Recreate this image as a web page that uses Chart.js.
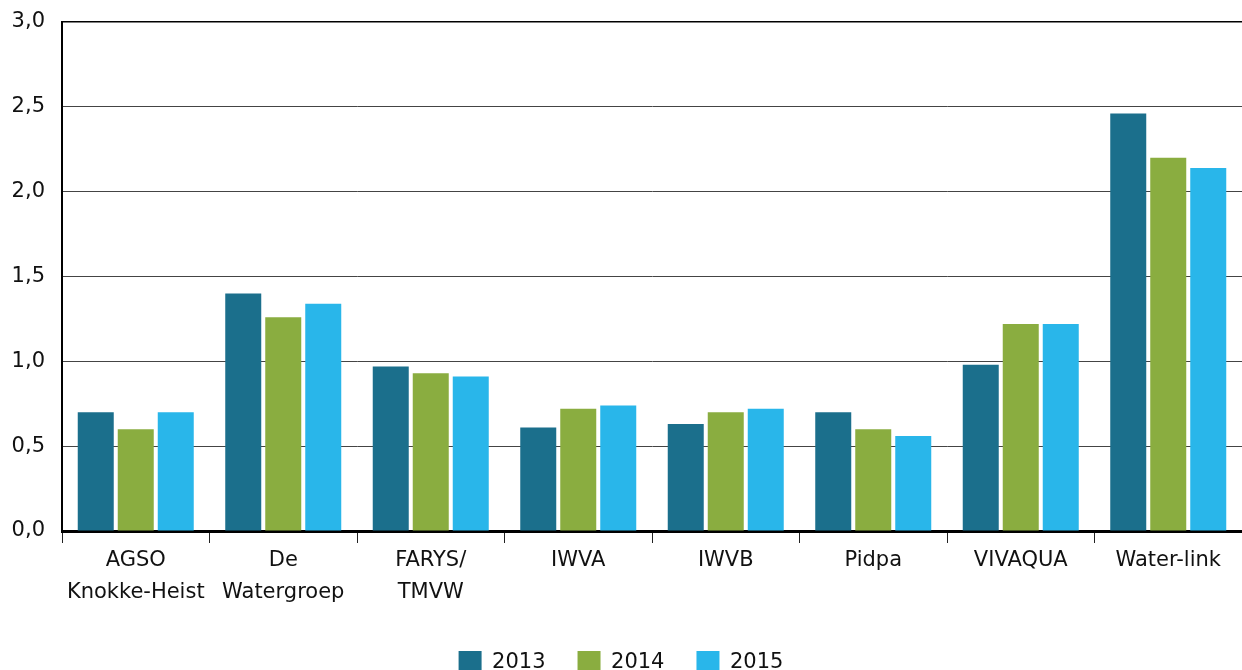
<!DOCTYPE html>
<html>
<head>
<meta charset="utf-8">
<script src="https://cdn.jsdelivr.net/npm/chart.js@4"></script>
<style>
  html, body { margin: 0; padding: 0; background: #fff; overflow: hidden; }
  #wrap { width: 1242px; height: 684px; }
</style>
</head>
<body>
<div id="wrap"><canvas id="chart-area" width="1242" height="684"></canvas></div>
<script>
var categories = [
	['AGSO', 'Knokke-Heist'],
	['De', 'Watergroep'],
	['FARYS/', 'TMVW'],
	'IWVA',
	'IWVB',
	'Pidpa',
	'VIVAQUA',
	'Water-link'
];
var years = ['2013', '2014', '2015'];
var values2013 = [0.70, 1.40, 0.97, 0.61, 0.63, 0.70, 0.98, 2.46];
var values2014 = [0.60, 1.26, 0.93, 0.72, 0.70, 0.60, 1.22, 2.20];
var values2015 = [0.70, 1.34, 0.91, 0.74, 0.72, 0.56, 1.22, 2.14];
var yTicks = [0, 0.5, 1, 1.5, 2, 2.5, 3];

var chartColors = {
	petrol: '#1b6f8c',
	green: '#8aad40',
	cyan: '#29b6ea'
};

var fontFamily = '"DejaVu Sans", "Open Sans", sans-serif';

var config = {
	type: 'bar',
	data: {
		labels: categories,
		datasets: [
			{ label: years[0], data: values2013, backgroundColor: chartColors.petrol },
			{ label: years[1], data: values2014, backgroundColor: chartColors.green },
			{ label: years[2], data: values2015, backgroundColor: chartColors.cyan }
		]
	},
	options: {
		responsive: false,
		animation: false,
		categoryPercentage: 0.8136,
		barPercentage: 0.9,
		layout: { padding: { top: 22, right: 0, left: 0, bottom: 0 } },
		plugins: {
			tooltip: { enabled: false },
			legend: {
				position: 'bottom',
				labels: {
					boxWidth: 23,
					boxHeight: 23,
					padding: 32,
					color: '#111',
					font: { family: fontFamily, size: 21 }
				}
			}
		},
		scales: {
			x: {
				afterFit: function (axis) {
					axis.height += 9;
				},
				grid: {
					display: true,
					offset: true,
					drawOnChartArea: false,
					drawTicks: true,
					tickLength: 12,
					tickColor: '#222',
					tickWidth: 1
				},
				border: { display: true, color: '#000', width: 3 },
				ticks: {
					color: '#111',
					padding: 2,
					maxRotation: 0,
					autoSkip: false,
					font: { family: fontFamily, size: 21, lineHeight: 1.5 }
				}
			},
			y: {
				min: 0,
				max: 3,
				afterBuildTicks: function (axis) {
					axis.ticks = yTicks.map(function (v) { return { value: v }; });
				},
				afterFit: function (axis) {
					axis.width = 62;
					axis.paddingTop = 0;
					axis.paddingBottom = 0;
				},
				grid: {
					drawTicks: false,
					color: function (ctx) {
						return ctx.tick && ctx.tick.value === 3 ? '#000' : '#444';
					},
					lineWidth: function (ctx) {
						return ctx.tick && ctx.tick.value === 3 ? 1.5 : 1;
					}
				},
				border: { display: true, color: '#000', width: 2 },
				ticks: {
					color: '#111',
					padding: 17,
					font: { family: fontFamily, size: 21 },
					callback: function (value) {
						return Number(value).toFixed(1).replace('.', ',');
					}
				}
			}
		}
	}
};

window.onload = function () {
	var ctx = document.getElementById('chart-area').getContext('2d');
	window.myBar = new Chart(ctx, config);
};
</script>
</body>
</html>
